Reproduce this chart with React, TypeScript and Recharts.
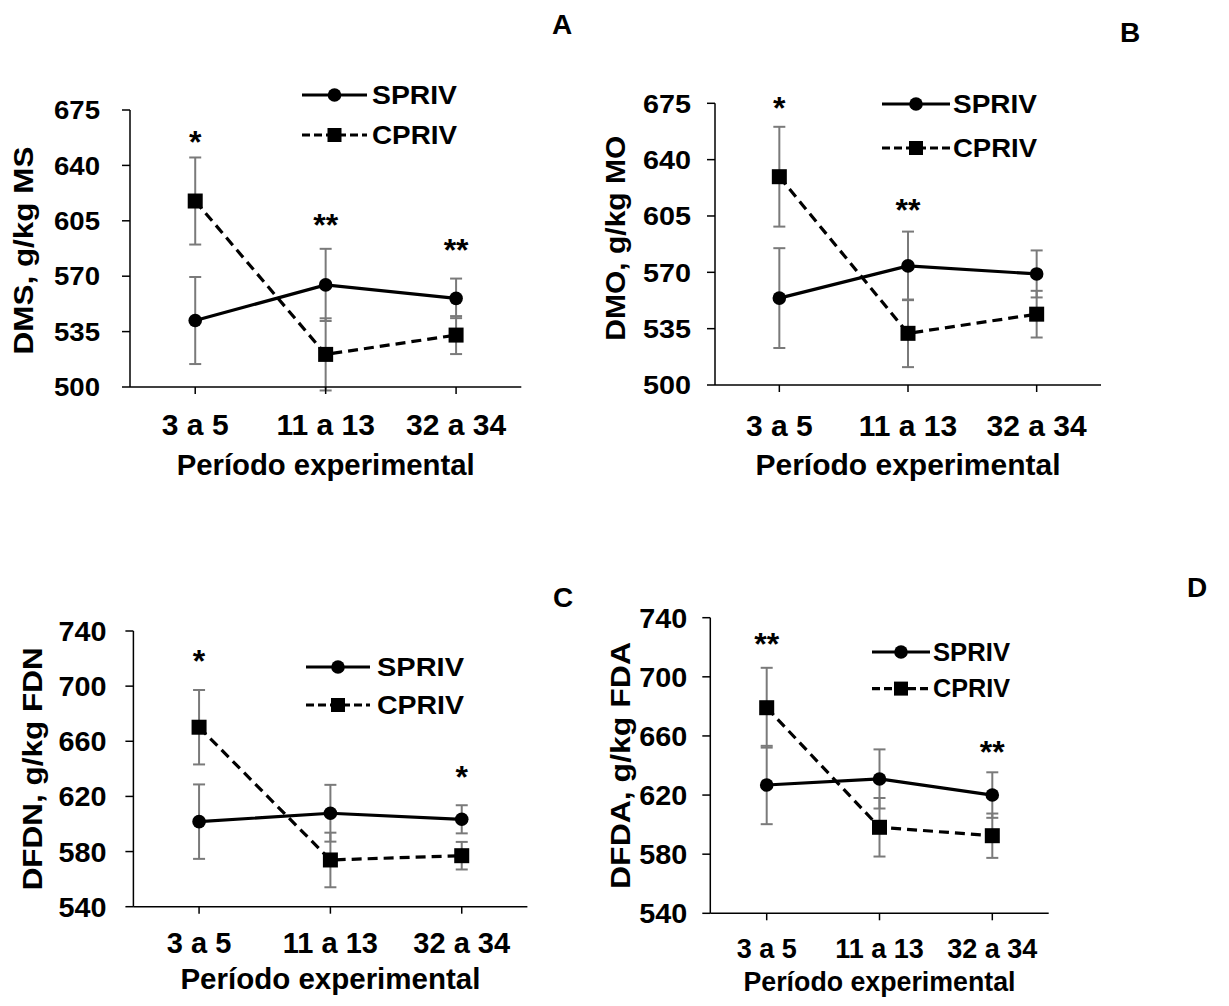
import React from 'react';
import { ComposedChart, Line, XAxis, YAxis, ErrorBar, ReferenceDot, Legend } from 'recharts';

const FONT = '"Liberation Sans", Arial, Helvetica, sans-serif';

const periods = ['3 a 5', '11 a 13', '32 a 34'];
const seriesOrder = ['SPRIV', 'CPRIV'];

const ticksMs = [500, 535, 570, 605, 640, 675];
const ticksFib = [540, 580, 620, 660, 700, 740];

// DMS, g/kg MS
const dmsSpriv = [542, 564.5, 556];
const dmsSprivErr = [27.5, 22.8, 12.5];
const dmsCpriv = [617.5, 520.6, 532.8];
const dmsCprivErr = [27.5, 22.8, 12];
const dmsSig = ['*', '**', '**'];
const dmsSigAt = [660, 607.5, 591.5];

// DMO, g/kg MO
const dmoSpriv = [554, 574, 569];
const dmoSprivErr = [31, 21.3, 14.6];
const dmoCpriv = [629.4, 532.1, 544];
const dmoCprivErr = [31, 21, 14.5];
const dmoSig = ['*', '**', ''];
const dmoSigAt = [677, 614, 0];

// DFDN, g/kg FDN
const dfdnSpriv = [601.7, 607.8, 603.4];
const dfdnSprivErr = [27, 20.6, 10.2];
const dfdnCpriv = [670.2, 573.9, 577];
const dfdnCprivErr = [27, 19.8, 10];
const dfdnSig = ['*', '', '*'];
const dfdnSigAt = [724, 0, 640];

// DFDA, g/kg FDA
const dfdaSpriv = [626.8, 630.9, 620];
const dfdaSprivErr = [26.5, 20, 15.4];
const dfdaCpriv = [679.1, 598.2, 592.5];
const dfdaCprivErr = [27, 19.8, 15];
const dfdaSig = ['**', '', '**'];
const dfdaSigAt = [728, 0, 655];

type Panel = {
  letter: string;
  letterPos: [number, number];
  box: { left: number; top: number; width: number; height: number };
  margin: { top: number; right: number; bottom: number; left: number };
  yWidth: number;
  xHeight: number;
  domain: [number, number];
  ticks: number[];
  yTitle: string;
  yTitleGap: number;
  yTitleLen: number;
  yTitleShift: number;
  yTickMargin: number;
  yTickFont: number;
  yTickLen: number;
  xTickFont: number;
  xTickDy: number;
  xTitleFont: number;
  xTitleDy: number;
  xTitleLen: number;
  legend: { x: number; y: number; gap: number; line: number; textGap: number; textLen: number };
  spriv: number[];
  sprivErr: number[];
  cpriv: number[];
  cprivErr: number[];
  sig: string[];
  sigAt: number[];
};

const panels: Panel[] = [
  {
    letter: 'A', letterPos: [562, 25],
    box: { left: 0, top: 0, width: 600, height: 500 },
    margin: { top: 110, right: 78.7, bottom: 13, left: 30 },
    yWidth: 100, xHeight: 100,
    domain: [500, 675], ticks: ticksMs,
    yTitle: 'DMS, g/kg MS', yTitleGap: 97, yTitleLen: 208, yTitleShift: 2,
    yTickMargin: 22, yTickFont: 26, yTickLen: 46,
    xTickFont: 30, xTickDy: 30, xTitleFont: 29, xTitleDy: 88, xTitleLen: 298,
    legend: { x: 302, y: 83, gap: 40, line: 65, textGap: 5, textLen: 85 },
    spriv: dmsSpriv, sprivErr: dmsSprivErr, cpriv: dmsCpriv, cprivErr: dmsCprivErr,
    sig: dmsSig, sigAt: dmsSigAt,
  },
  {
    letter: 'B', letterPos: [1130, 33],
    box: { left: 600, top: 0, width: 629, height: 500 },
    margin: { top: 103.3, right: 128, bottom: 15, left: 15 },
    yWidth: 100, xHeight: 100,
    domain: [500, 675], ticks: ticksMs,
    yTitle: 'DMO, g/kg MO', yTitleGap: 90, yTitleLen: 205, yTitleShift: -6,
    yTickMargin: 16, yTickFont: 26, yTickLen: 48,
    xTickFont: 30, xTickDy: 33, xTitleFont: 29, xTitleDy: 90, xTitleLen: 305,
    legend: { x: 281.7, y: 92, gap: 44, line: 68, textGap: 3, textLen: 84 },
    spriv: dmoSpriv, sprivErr: dmoSprivErr, cpriv: dmoCpriv, cprivErr: dmoCprivErr,
    sig: dmoSig, sigAt: dmoSigAt,
  },
  {
    letter: 'C', letterPos: [563, 598],
    box: { left: 0, top: 500, width: 600, height: 506 },
    margin: { top: 131, right: 72.6, bottom: 0.3, left: 33.4 },
    yWidth: 100, xHeight: 99,
    domain: [540, 740], ticks: ticksFib,
    yTitle: 'DFDN, g/kg FDN', yTitleGap: 91, yTitleLen: 243, yTitleShift: 0,
    yTickMargin: 19, yTickFont: 28, yTickLen: 48,
    xTickFont: 29, xTickDy: 29, xTitleFont: 29, xTitleDy: 82, xTitleLen: 300,
    legend: { x: 306, y: 154.7, gap: 38, line: 64, textGap: 7, textLen: 87 },
    spriv: dfdnSpriv, sprivErr: dfdnSprivErr, cpriv: dfdnCpriv, cprivErr: dfdnCprivErr,
    sig: dfdnSig, sigAt: dfdnSigAt,
  },
  {
    letter: 'D', letterPos: [1197, 588],
    box: { left: 600, top: 500, width: 629, height: 506 },
    margin: { top: 117.7, right: 180.3, bottom: 0.7, left: 10.3 },
    yWidth: 100, xHeight: 92,
    domain: [540, 740], ticks: ticksFib,
    yTitle: 'DFDA, g/kg FDA', yTitleGap: 80, yTitleLen: 247, yTitleShift: 0,
    yTickMargin: 15, yTickFont: 28, yTickLen: 48,
    xTickFont: 27, xTickDy: 28, xTitleFont: 27, xTitleDy: 78, xTitleLen: 272,
    legend: { x: 271.7, y: 139.7, gap: 36.6, line: 58, textGap: 3, textLen: 77 },
    spriv: dfdaSpriv, sprivErr: dfdaSprivErr, cpriv: dfdaCpriv, cprivErr: dfdaCprivErr,
    sig: dfdaSig, sigAt: dfdaSigAt,
  },
];

const DASH = '10 6';
const ERR_COLOR = '#7a7a7a';

const CircleDot = (props: any) => (
  <circle key={`c-${props.index}`} cx={props.cx} cy={props.cy} r={6.8} fill="#000" />
);

const SquareDot = (props: any) => (
  <rect key={`s-${props.index}`} x={props.cx - 7.5} y={props.cy - 7.5} width={15} height={15} fill="#000" />
);

const LegendBox = ({ payload, spec }: any) => {
  const { gap, line, textGap, textLen } = spec;
  const entries = [...(payload || [])].sort(
    (a: any, b: any) => seriesOrder.indexOf(a.value) - seriesOrder.indexOf(b.value)
  );
  return (
    <svg width={260} height={gap + 30} style={{ display: 'block', overflow: 'visible' }}>
      {entries.map((entry: any, i: number) => {
        const y = 12 + i * gap;
        const dashed = entry.value === 'CPRIV';
        const mid = line / 2;
        return (
          <g key={entry.value}>
            <line x1={0} y1={y} x2={line} y2={y} stroke="#000" strokeWidth={3.2}
              strokeDasharray={dashed ? '8 4' : undefined} />
            {dashed ? (
              <rect x={mid - 7} y={y - 7} width={14} height={14} fill="#000" />
            ) : (
              <circle cx={mid} cy={y} r={6.8} fill="#000" />
            )}
            <text x={line + textGap} y={y} dy="0.355em" fontFamily={FONT} fontWeight="bold"
              fontSize={25} textLength={textLen} lengthAdjust="spacingAndGlyphs" fill="#000">
              {entry.value}
            </text>
          </g>
        );
      })}
    </svg>
  );
};

function PanelChart({ p }: { p: Panel }) {
  const rows = periods.map((period, i) => ({
    period,
    spriv: p.spriv[i],
    sprivErr: p.sprivErr[i],
    cpriv: p.cpriv[i],
    cprivErr: p.cprivErr[i],
  }));

  // half a category band on each side so the points sit mid-band
  const plotWidth = p.box.width - p.margin.left - p.margin.right - p.yWidth;
  const pad = plotWidth / (periods.length * 2);

  const YTick = ({ x, y, payload }: any) => (
    <text x={x} y={y} dy="0.355em" textAnchor="end" fontFamily={FONT} fontWeight="bold"
      fontSize={p.yTickFont} textLength={p.yTickLen} lengthAdjust="spacingAndGlyphs" fill="#000">
      {payload.value}
    </text>
  );

  const XTick = ({ x, y, payload }: any) => (
    <text x={x} y={y + p.xTickDy} dy="0.355em" textAnchor="middle" fontFamily={FONT}
      fontWeight="bold" fontSize={p.xTickFont} fill="#000">
      {payload.value}
    </text>
  );

  const XTitle = ({ viewBox }: any) => (
    <text x={viewBox.x + viewBox.width / 2} y={viewBox.y + p.xTitleDy} textAnchor="middle"
      fontFamily={FONT} fontWeight="bold" fontSize={p.xTitleFont} textLength={p.xTitleLen}
      lengthAdjust="spacingAndGlyphs" fill="#000">
      Período experimental
    </text>
  );

  const YTitle = ({ viewBox }: any) => {
    const bx = viewBox.x + viewBox.width - p.yTitleGap;
    const cy = viewBox.y + viewBox.height / 2 + p.yTitleShift;
    return (
      <text transform={`translate(${bx},${cy}) rotate(-90)`} x={0} y={0} textAnchor="middle"
        fontFamily={FONT} fontWeight="bold" fontSize={27} textLength={p.yTitleLen}
        lengthAdjust="spacingAndGlyphs" fill="#000">
        {p.yTitle}
      </text>
    );
  };

  return (
    <div style={{ position: 'absolute', ...p.box }}>
      <ComposedChart width={p.box.width} height={p.box.height} data={rows} margin={p.margin}>
        <XAxis dataKey="period" interval={0} height={p.xHeight} tickSize={7} tickMargin={0}
          padding={{ left: pad, right: pad }}
          axisLine={{ stroke: '#000', strokeWidth: 1.5 }} tickLine={{ stroke: '#000', strokeWidth: 1.5 }}
          tick={<XTick />} label={<XTitle />} />
        <YAxis type="number" domain={p.domain} ticks={p.ticks} interval={0} allowDataOverflow
          width={p.yWidth} tickSize={8} tickMargin={p.yTickMargin}
          axisLine={{ stroke: '#000', strokeWidth: 1.5 }} tickLine={{ stroke: '#000', strokeWidth: 1.5 }}
          tick={<YTick />} label={<YTitle />} />
        <Legend layout="horizontal" verticalAlign="middle" align="center"
          wrapperStyle={{ left: p.legend.x, top: p.legend.y, width: 260, height: p.legend.gap + 30 }}
          content={(props: any) => <LegendBox payload={props.payload} spec={p.legend} />} />
        <Line name="SPRIV" dataKey="spriv" stroke="#000" strokeWidth={3.2} dot={<CircleDot />}
          activeDot={false} isAnimationActive={false}>
          <ErrorBar dataKey="sprivErr" width={6} stroke={ERR_COLOR} strokeWidth={2} direction="y" />
        </Line>
        <Line name="CPRIV" dataKey="cpriv" stroke="#000" strokeWidth={3.2} strokeDasharray={DASH}
          dot={<SquareDot />} activeDot={false} isAnimationActive={false}>
          <ErrorBar dataKey="cprivErr" width={6} stroke={ERR_COLOR} strokeWidth={2} direction="y" />
        </Line>
        {p.sig.map((s, i) =>
          s ? (
            <ReferenceDot key={`sig-${i}`} x={periods[i]} y={p.sigAt[i]} r={0} ifOverflow="visible"
              shape={(d: any) => (
                <text x={d.cx} y={d.cy} dy="0.6em" textAnchor="middle" fontFamily={FONT}
                  fontWeight="bold" fontSize={32} fill="#000">
                  {s}
                </text>
              )} />
          ) : null
        )}
      </ComposedChart>
    </div>
  );
}

export default function App() {
  return (
    <div style={{ position: 'absolute', left: 0, top: 0, width: 1229, height: 1006, background: '#fff' }}>
      {panels.map((p) => (
        <React.Fragment key={p.letter}>
          <PanelChart p={p} />
          <div style={{
            position: 'absolute', left: p.letterPos[0] - 20, top: p.letterPos[1] - 16, width: 40,
            textAlign: 'center', fontFamily: FONT, fontWeight: 'bold', fontSize: 28, lineHeight: '32px',
          }}>
            {p.letter}
          </div>
        </React.Fragment>
      ))}
    </div>
  );
}
